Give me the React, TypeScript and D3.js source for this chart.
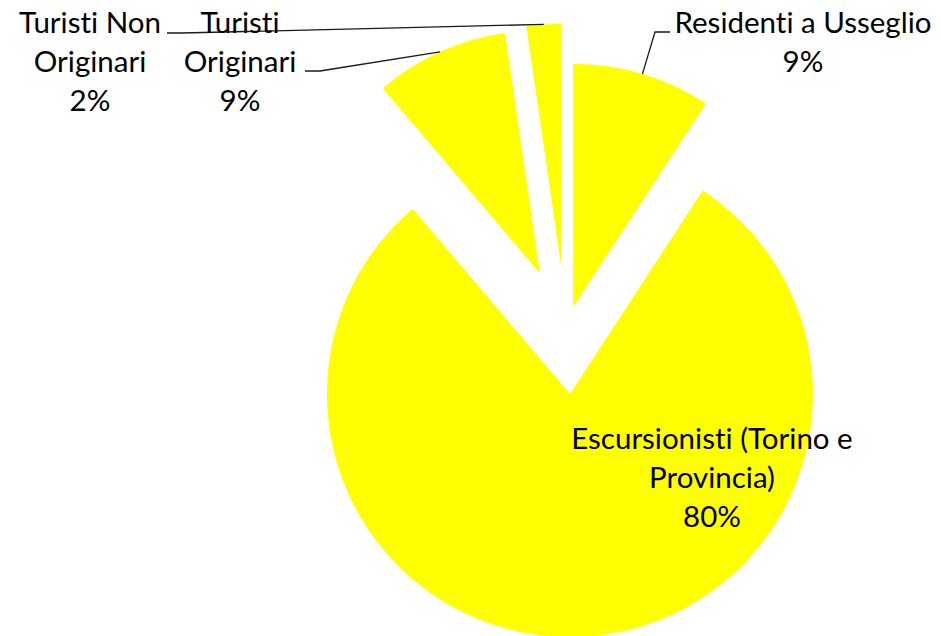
import * as d3 from "d3";
import React, { useEffect, useRef } from "react";

// slice order follows the chart, clockwise from 12 o'clock
const categories = [
  "Residenti a Usseglio",
  "Escursionisti (Torino e Provincia)",
  "Turisti Originari",
  "Turisti Non Originari",
];
const shares = [9.2, 79.6, 8.9, 2.3];
const labelLines = [
  ["Residenti a Usseglio"],
  ["Escursionisti (Torino e", "Provincia)"],
  ["Turisti", "Originari"],
  ["Turisti Non", "Originari"],
];

interface Slice {
  name: string;
  value: number;
  lines: string[];
}

const App: React.FC = () => {
  const ref = useRef<SVGSVGElement | null>(null);

  useEffect(() => {
    const width = 941;
    const height = 636;
    const radius = 243;
    const cx = 566;
    const cy = 331;
    // explosion distance per slice, fraction of radius
    const explode = [0.103, 0.26, 0.26, 0.265];
    // label anchor: center x, first baseline, leader start point + side
    const labelPos = [
      { x: 803, y: 33, lx: 670, ly: 32, dir: -1 },
      { x: 712, y: 449, lx: 0, ly: 0, dir: 0 },
      { x: 240, y: 33, lx: 305, ly: 71, dir: 1 },
      { x: 90, y: 33, lx: 167, ly: 33, dir: 1 },
    ];
    const lineHeight = 39;

    const data: Slice[] = categories.map((name, i) => ({
      name,
      value: shares[i],
      lines: labelLines[i],
    }));
    const total = d3.sum(data, (d) => d.value);

    const svg = d3.select(ref.current);
    svg.selectAll("*").remove();
    svg.attr("width", width).attr("height", height);

    const pie = d3
      .pie<Slice>()
      .sort(null)
      .value((d) => d.value);
    const arcs = pie(data);

    const arc = d3.arc<d3.PieArcDatum<Slice>>().innerRadius(0).outerRadius(radius);

    const offset = (a: d3.PieArcDatum<Slice>, i: number) => {
      const mid = (a.startAngle + a.endAngle) / 2;
      const d = explode[i] * radius;
      return [Math.sin(mid) * d, -Math.cos(mid) * d];
    };

    const g = svg.append("g").attr("transform", `translate(${cx},${cy})`);

    g.selectAll("path.slice")
      .data(arcs)
      .enter()
      .append("path")
      .attr("class", "slice")
      .attr("d", (d) => arc(d) as string)
      .attr("transform", (d, i) => {
        const [ox, oy] = offset(d, i);
        return `translate(${ox},${oy})`;
      })
      .attr("fill", "#FFFF00");

    // leader lines to the middle of each slice's outer edge
    arcs.forEach((a, i) => {
      const p = labelPos[i];
      if (p.dir === 0) return;
      const mid = (a.startAngle + a.endAngle) / 2;
      const [ox, oy] = offset(a, i);
      const ex = cx + ox + Math.sin(mid) * radius;
      const ey = cy + oy - Math.cos(mid) * radius;
      const pts: [number, number][] = [
        [p.lx, p.ly],
        [p.lx + p.dir * 15, p.ly],
        [ex, ey],
      ];
      svg
        .append("path")
        .attr("d", d3.line()(pts) as string)
        .attr("fill", "none")
        .attr("stroke", "#1a1a1a")
        .attr("stroke-width", 1.3);
    });

    arcs.forEach((a, i) => {
      const p = labelPos[i];
      const lines = [...a.data.lines, `${Math.round((a.data.value / total) * 100)}%`];
      const t = svg
        .append("text")
        .attr("text-anchor", "middle")
        .attr("font-family", "Lato, 'Noto Sans', sans-serif")
        .attr("font-size", "29.5px")
        .style("font-variant-ligatures", "none")
        .attr("fill", "#000");
      lines.forEach((ln, k) => {
        t.append("tspan")
          .attr("x", p.x)
          .attr("y", p.y + k * lineHeight)
          .text(ln);
      });
    });
  }, []);

  return (
    <svg
      ref={ref}
      style={{ position: "absolute", left: 0, top: 0, display: "block" }}
    ></svg>
  );
};

export default App;
